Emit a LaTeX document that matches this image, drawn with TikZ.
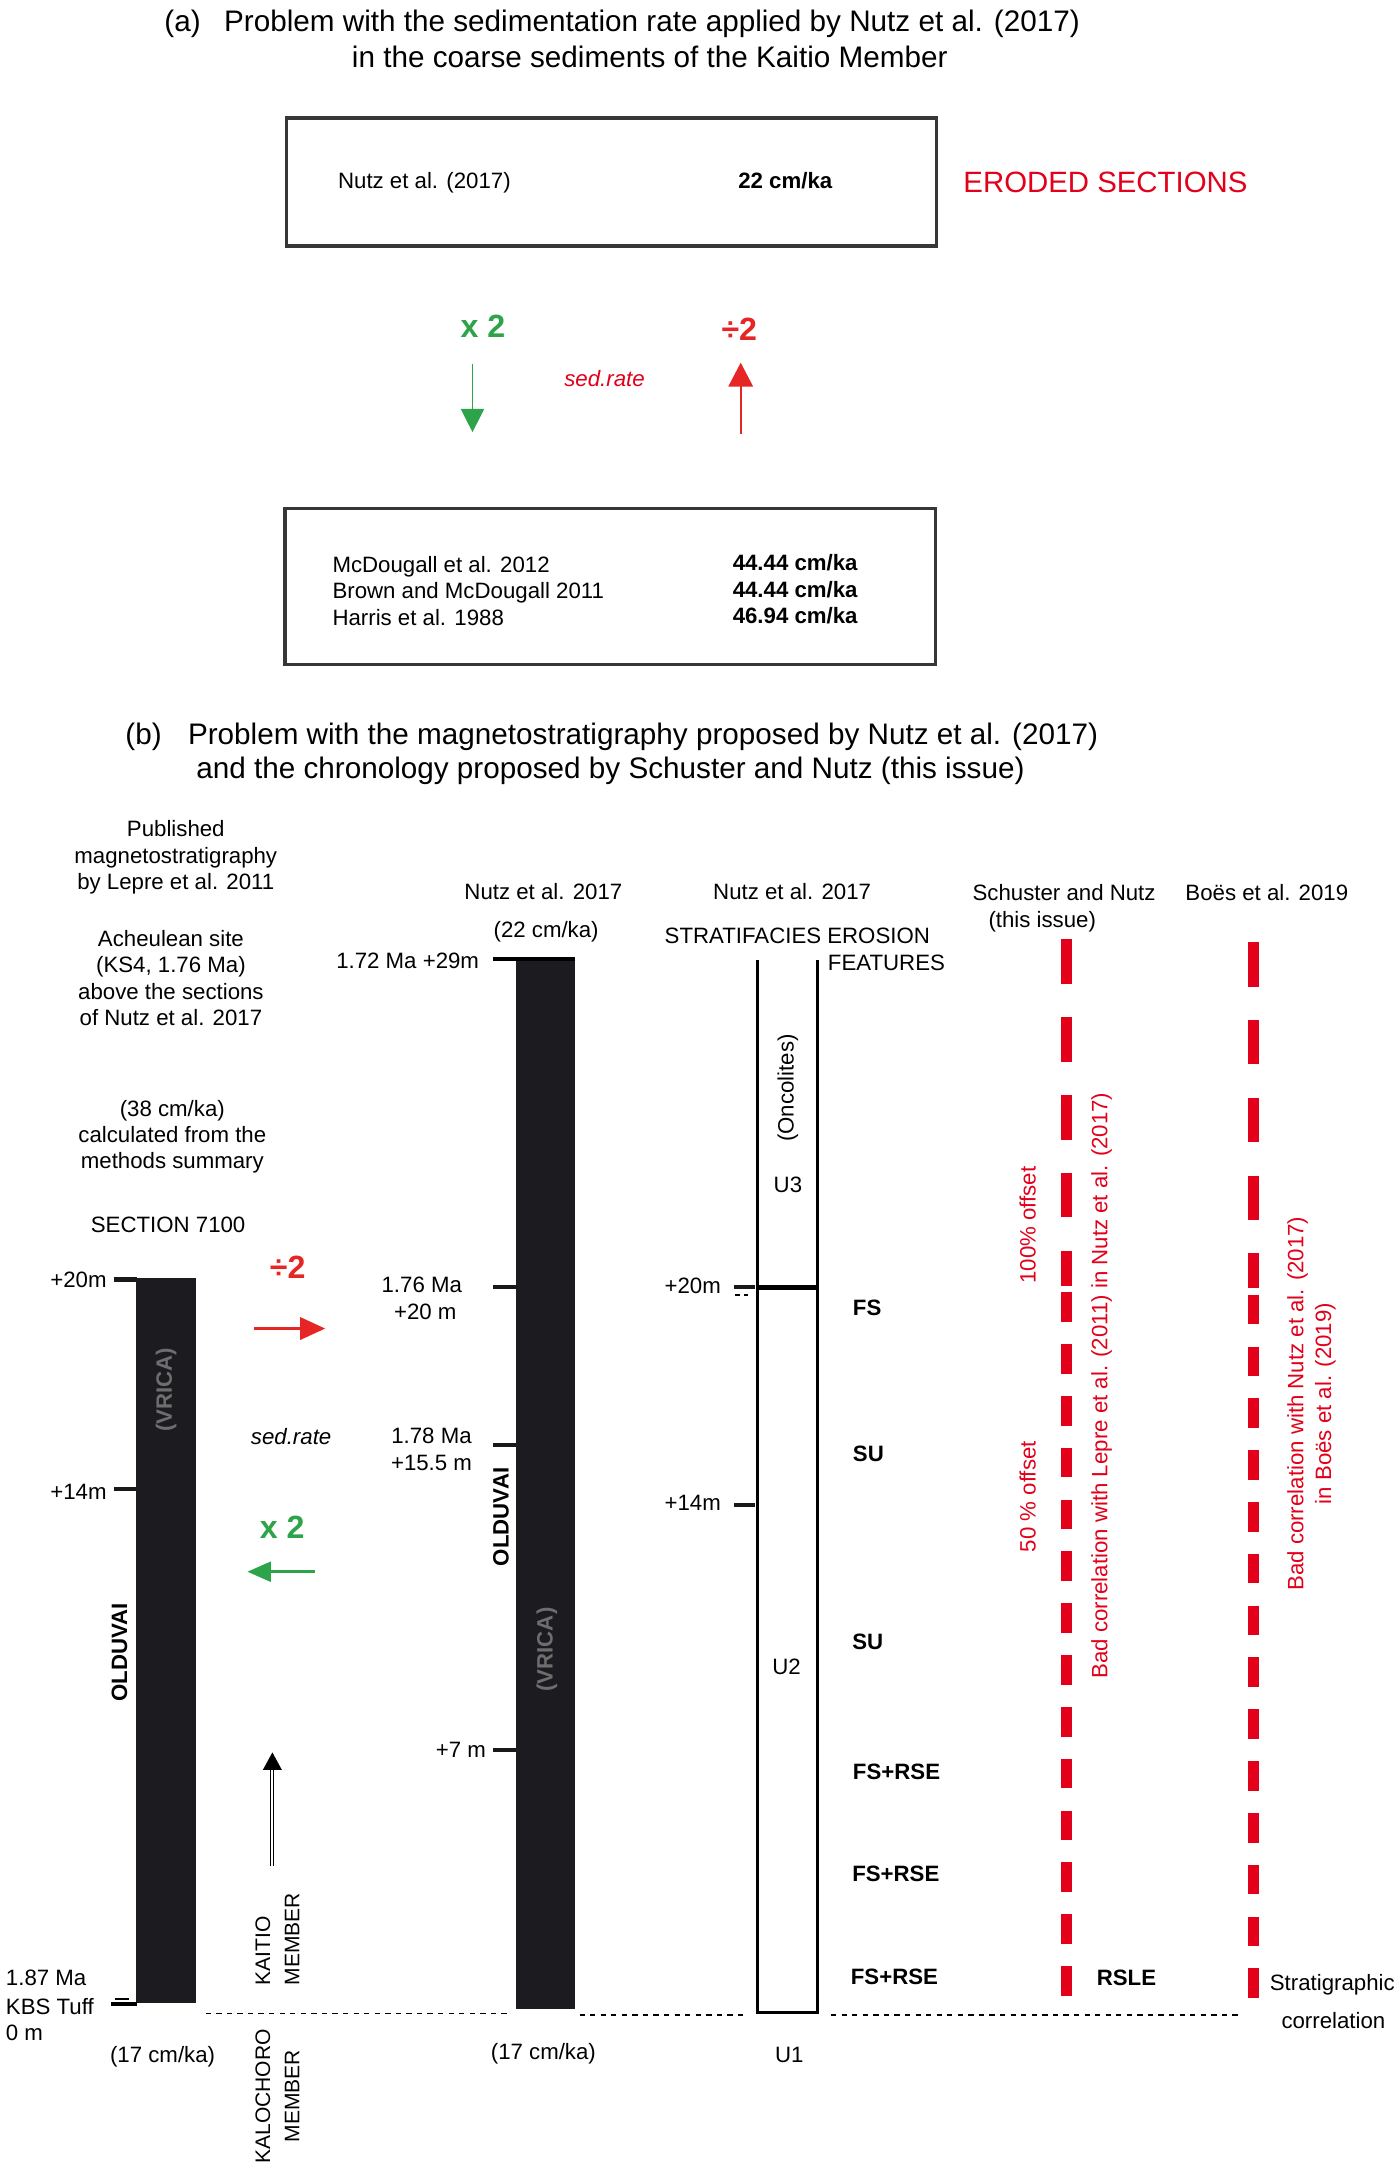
\documentclass[tikz,border=0pt]{standalone}
\usepackage{fontspec}
\setmainfont{Liberation Sans}
\usetikzlibrary{arrows.meta}
\definecolor{myred}{RGB}{226,0,26}
\definecolor{arrred}{RGB}{229,38,36}
\definecolor{mygreen}{RGB}{46,164,74}
\definecolor{barblack}{RGB}{28,27,31}
\definecolor{boxgray}{RGB}{55,55,55}
\definecolor{vrica}{RGB}{110,110,110}
\begin{document}
\begin{tikzpicture}[x=0.7pt,y=-0.7pt,
 lbl/.style={inner sep=0pt, font=\fontsize{11.2}{13.3}\selectfont},
 lblb/.style={inner sep=0pt, font=\fontsize{11.2}{13.3}\selectfont\bfseries},
 ttl/.style={inner sep=0pt, font=\fontsize{14.95}{17}\selectfont},
 bigsym/.style={inner sep=0pt, font=\fontsize{16.2}{18}\selectfont\bfseries},
 redtxt/.style={lbl, text=myred},
 boxst/.style={draw=boxgray, line width=1.7pt, inner sep=0pt},
 barst/.style={fill=barblack, inner sep=0pt},
 tick/.style={line width=2.1pt, black!90},
 sepline/.style={line width=0.75pt, dash pattern=on 2.66pt off 2.66pt},
 corr/.style={myred, line width=5.25pt},
 longd/.style={dash pattern=on 22.4pt off 16.8pt},
 shortd/.style={dash pattern=on 14.9pt off 11.2pt},
 member/.style={inner sep=0pt, rotate=90, font=\fontsize{10.6}{14.7}\selectfont},
]
\fill[white] (0,0) rectangle (1007,1568);
\useasboundingbox (0,0) rectangle (1007,1568);

% ---------------- (a) ----------------
\node[ttl, anchor=base west] (ta) at (118,22.5) {(a)};
\node[ttl, anchor=base west] (ta1) at (161,22.5) {Problem with the sedimentation rate applied by Nutz et al. (2017)};
\node[ttl, anchor=base west] (ta2) at (253,48.5) {in the coarse sediments of the Kaitio Member};

\node[boxst, minimum width=327.6pt, minimum height=64.4pt] (box1) at (440,131) {};
\node[lbl, anchor=base west] (n1) at (243,136) {Nutz et al. (2017)};
\node[lblb, anchor=base west] (r1) at (531,136) {22 cm/ka};
\node[inner sep=0pt, anchor=base west, text=myred, font=\fontsize{14.8}{17}\selectfont] (eroded) at (693,138.6) {ERODED SECTIONS};

\node[bigsym, text=mygreen, anchor=base] (x2a) at (347.5,243) {x 2};
\node[bigsym, text=arrred, anchor=base] (d2a) at (532,245) {÷2};
\node[lbl, font=\fontsize{11.2}{13.3}\selectfont\itshape, text=myred, anchor=base] (sra) at (435,277.8) {sed.rate};
\coordinate (ga0) at (340,262);
\coordinate (ga1) at (340,311);
\draw[mygreen, line width=0.9pt, -{Triangle[width=11.7pt,length=11.8pt]}] (ga0) -- (ga1);
\coordinate (ra0) at (533,312);
\coordinate (ra1) at (533,261);
\draw[arrred, line width=0.9pt, -{Triangle[width=12.3pt,length=12pt]}] (ra0) -- (ra1);

\node[boxst, minimum width=327.6pt, minimum height=78.4pt] (box2) at (439,422) {};
\node[lbl, anchor=base west] (m1) at (239,411.8) {McDougall et al. 2012};
\node[lbl, anchor=base west] (m2) at (239,430.8) {Brown and McDougall 2011};
\node[lbl, anchor=base west] (m3) at (239,449.8) {Harris et al. 1988};
\node[lblb, anchor=base west] (v1) at (527,410.8) {44.44 cm/ka};
\node[lblb, anchor=base west] (v2) at (527,429.8) {44.44 cm/ka};
\node[lblb, anchor=base west] (v3) at (527,448.8) {46.94 cm/ka};

% ---------------- (b) ----------------
\node[ttl, anchor=base west] (tb) at (90,535.5) {(b)};
\node[ttl, anchor=base west] (tb1) at (135,535.5) {Problem with the magnetostratigraphy proposed by Nutz et al. (2017)};
\node[ttl, anchor=base west] (tb2) at (141,560.5) {and the chronology proposed by Schuster and Nutz (this issue)};

% left column texts
\node[lbl, align=center, anchor=north] (pub) at (126.5,590.2) {Published\\magnetostratigraphy\\by Lepre et al. 2011};
\node[lbl, align=center, anchor=north] (ach) at (123,669.2) {Acheulean site\\(KS4, 1.76 Ma)\\above the sections\\of Nutz et al. 2017};
\node[lbl, align=center, anchor=north] (calc) at (124,791.2) {(38 cm/ka)\\calculated from the\\methods summary};
\node[lbl, anchor=base] (sec) at (121,886.8) {SECTION 7100};

% bar 1
\node[barst, minimum width=30.1pt, minimum height=365.05pt] (bar1) at (119.5,1180.25) {};
\draw[tick] (82,920.7) -- (98.5,920.7);
\draw[tick] (82,1071.5) -- (98.5,1071.5);
\draw[line width=0.8pt] (82.7,1438.5) -- (92.8,1438.5);
\draw[line width=1.6pt] (79.8,1442) -- (98.3,1442);
\node[lbl, anchor=base east] (l20) at (77,926.8) {+20m};
\node[lbl, anchor=base east] (l14) at (77,1078.8) {+14m};
\node[lbl, anchor=base west] (l187) at (4,1428.8) {1.87 Ma};
\node[lbl, anchor=base west] (lkbs) at (4,1449.3) {KBS Tuff};
\node[lbl, anchor=base west] (l0) at (4,1468.3) {0 m};
\node[lbl, anchor=base] (l17a) at (117,1483.8) {(17 cm/ka)};
\node[lblb, rotate=90, text=vrica] (vr1) at (119.5,1000) {(VRICA)};
\node[lblb, rotate=90] (ol1) at (86,1189) {OLDUVAI};

% arrows between
\node[bigsym, text=arrred, anchor=base] (d2b) at (207,920.2) {÷2};
\coordinate (rb0) at (182.5,956);
\coordinate (rb1) at (234,956);
\draw[arrred, line width=1.4pt, -{Triangle[width=11.2pt,length=12.6pt]}] (rb0) -- (rb1);
\node[lbl, font=\fontsize{11.2}{13.3}\selectfont\itshape, anchor=base] (srb) at (209.5,1039.8) {sed.rate};
\node[bigsym, text=mygreen, anchor=base] (x2b) at (203,1107.2) {x 2};
\coordinate (gb0) at (227,1131);
\coordinate (gb1) at (178,1131);
\draw[mygreen, line width=1.5pt, -{Triangle[width=10pt,length=11.9pt]}] (gb0) -- (gb1);
\coordinate (ka0) at (196,1343);
\coordinate (ka1) at (196,1273.5);
\coordinate (ka2) at (196,1261);
\draw[line width=0.5pt, double distance=0.9pt] (ka0) -- (ka1);
\fill ([xshift=-4.75pt]ka1) -- (ka2) -- ([xshift=4.75pt]ka1) -- cycle;
\node[member, anchor=north west, align=left] (kaitio) at (183.6,1429) {KAITIO\\MEMBER};
\node[member, anchor=north, align=center] (kalo) at (183.6,1508.5) {KALOCHORO\\MEMBER};

% separation dashed lines
\coordinate (s1a) at (148,1449);
\coordinate (s1b) at (368,1449);
\coordinate (s2a) at (417,1450);
\coordinate (s2b) at (538,1450);
\coordinate (s3a) at (598,1450);
\coordinate (s3b) at (894,1450);
\draw[sepline] (s1a) -- (s1b);
\draw[sepline] (s2a) -- (s2b);
\draw[sepline] (s3a) -- (s3b);

% bar 2
\node[lbl, anchor=base] (h2) at (391,647.4) {Nutz et al. 2017};
\node[lbl, anchor=base] (h2b) at (393,674.3) {(22 cm/ka)};
\node[barst, minimum width=29.75pt, minimum height=528.5pt] (bar2) at (392.25,1068.5) {};
\draw[line width=1.7pt] (355,690) -- (413.5,690);
\draw[tick] (355,926) -- (371,926);
\draw[tick] (355,1040) -- (371,1040);
\draw[tick] (355,1259) -- (371,1259);
\node[lbl, anchor=base east] (l172) at (345,696.8) {1.72 Ma +29m};
\node[lbl, anchor=base] (l176) at (303.5,929.8) {1.76 Ma};
\node[lbl, anchor=base] (l176b) at (306,949.8) {+20 m};
\node[lbl, anchor=base] (l178) at (310.5,1038.8) {1.78 Ma};
\node[lbl, anchor=base] (l178b) at (310.5,1058.4) {+15.5 m};
\node[lbl, anchor=base east] (l7) at (350,1264.8) {+7 m};
\node[lblb, rotate=90] (ol2) at (360.5,1091.5) {OLDUVAI};
\node[lblb, rotate=90, text=vrica] (vr2) at (393.5,1187) {(VRICA)};
\node[lbl, anchor=base] (l17b) at (391,1481.8) {(17 cm/ka)};

% column 3
\node[lbl, anchor=base] (h3) at (570,647.4) {Nutz et al. 2017};
\node[lbl, anchor=base west] (strat) at (478,678.8) {STRATIFACIES EROSION};
\node[lbl, anchor=base west] (feat) at (595.5,698.7) {FEATURES};
\draw[line width=1.65pt, line join=miter] (545,690.5) -- (545,1448) -- (588,1448) -- (588,690.5);
\draw[line width=2.1pt] (545,926.5) -- (588,926.5);
\draw[tick] (528.5,926) -- (543,926);
\draw[line width=0.7pt, dash pattern=on 2.5pt off 2pt] (529,932) -- (538,932);
\draw[tick] (528.5,1083) -- (543,1083);
\node[lbl, anchor=base east] (c20) at (519,930.8) {+20m};
\node[lbl, anchor=base east] (c14) at (519,1086.8) {+14m};
\node[lbl, rotate=90] (onc) at (567,783) {(Oncolites)};
\node[lbl, anchor=base] (u3) at (567,857.8) {U3};
\node[lbl, anchor=base] (u2) at (566,1204.8) {U2};
\node[lbl, anchor=base] (u1) at (568,1483.8) {U1};
\node[lblb, anchor=base west] (fs1) at (613.5,946.8) {FS};
\node[lblb, anchor=base west] (su1) at (613.5,1051.8) {SU};
\node[lblb, anchor=base west] (su2) at (613,1186.8) {SU};
\node[lblb, anchor=base west] (fr1) at (613.5,1280.4) {FS+RSE};
\node[lblb, anchor=base west] (fr2) at (613,1353.8) {FS+RSE};
\node[lblb, anchor=base west] (fr3) at (612,1427.8) {FS+RSE};

% columns 4 and 5
\node[lbl, anchor=base] (h4) at (765.7,647.8) {Schuster and Nutz};
\node[lbl, anchor=base] (h4b) at (750,667.5) {(this issue)};
\node[lbl, anchor=base] (h5) at (911.6,647.8) {Boës et al. 2019};

\coordinate (a0) at (767.5,676);
\coordinate (a1) at (767.5,925.5);
\coordinate (a2) at (767.5,930);
\coordinate (a3) at (767.5,1436);
\draw[corr, longd] (a0) -- (a1);
\draw[corr, shortd] (a2) -- (a3);
\coordinate (b0) at (902,678);
\coordinate (b1) at (902,927);
\coordinate (b2) at (902,931.7);
\coordinate (b3) at (902,1438.6);
\draw[corr, longd] (b0) -- (b1);
\draw[corr, shortd] (b2) -- (b3);

\node[redtxt, rotate=90] (off100) at (739.5,881.5) {100\% offset};
\node[redtxt, rotate=90] (off50) at (739.5,1077) {50 \% offset};
\node[redtxt, rotate=90] (badl) at (792.7,997) {Bad correlation with Lepre et al. (2011) in Nutz et al. (2017)};
\node[redtxt, rotate=90, align=center, font=\fontsize{11.2}{14}\selectfont] (badb) at (943.75,1010) {Bad correlation with Nutz et al. (2017)\\in Boës et al. (2019)};

\node[lblb, anchor=base west] (rsle) at (789,1428.8) {RSLE};
\node[lbl, anchor=base west] (sg1) at (913.5,1432.4) {Stratigraphic};
\node[lbl, anchor=base] (sg2) at (959.5,1459.8) {correlation};
\end{tikzpicture}
\end{document}
